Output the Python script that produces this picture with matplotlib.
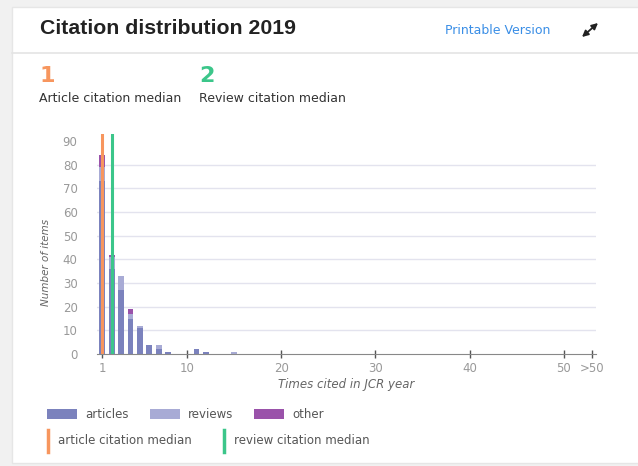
import numpy as np
import matplotlib.pyplot as plt
from matplotlib.patches import Rectangle, FancyArrowPatch
from matplotlib.lines import Line2D

# citation counts (x) and stacked item counts
times_cited = [1, 2, 3, 4, 5, 6, 7, 8, 11, 12, 15]
articles = [73, 36, 27, 15, 11, 4, 2, 1, 2, 1, 0]
reviews = [6, 5, 6, 2, 1, 0, 2, 0, 0, 0, 1]
other = [5, 1, 0, 2, 0, 0, 0, 0, 0, 0, 0]

article_median = 1
review_median = 2

x_ticks = [1, 10, 20, 30, 40, 50, 53]
x_tick_labels = ['1', '10', '20', '30', '40', '50', '>50']
y_ticks = [0, 10, 20, 30, 40, 50, 60, 70, 80, 90]

c_art = '#7b82bd'
c_rev = '#a8abd5'
c_oth = '#9a52aa'
c_orange = '#f7965e'
c_green = '#3cc68a'

W, H = 638, 466
fig = plt.figure(figsize=(W / 100, H / 100), dpi=100)
fig.patch.set_facecolor('#f1f1f1')

def fx(px):
    return px / W

def fy(py):
    return 1 - py / H

# card background
card = Rectangle((fx(12), fy(463)), 1, fy(7) - fy(463), transform=fig.transFigure,
                 facecolor='white', edgecolor='#e6e6e6', lw=1, zorder=-5)
fig.patches.append(card)
fig.add_artist(Line2D([fx(12), 1], [fy(53), fy(53)], color='#e4e4e4', lw=1.2))

# header
fig.text(fx(40), fy(28), 'Citation distribution 2019', fontsize=15.3, fontweight='bold',
         family='Liberation Sans', color='#222222', va='center')
fig.text(fx(445), fy(30), 'Printable Version', fontsize=9, color='#3a8ee6', va='center')
fig.add_artist(FancyArrowPatch((fx(582), fy(37)), (fx(598), fy(23)), transform=fig.transFigure,
                               arrowstyle='<|-|>', mutation_scale=9, color='#222222', lw=1.3,
                               shrinkA=0, shrinkB=0))

# medians summary
fig.text(fx(39), fy(76), str(article_median), fontsize=16, fontweight='bold', color=c_orange, va='center')
fig.text(fx(199), fy(76), str(review_median), fontsize=16, fontweight='bold', color=c_green, va='center')
fig.text(fx(39), fy(98), 'Article citation median', fontsize=9, color='#333333', va='center')
fig.text(fx(199), fy(98), 'Review citation median', fontsize=9, color='#333333', va='center')

# chart
ax = fig.add_axes([fx(97), fy(354), fx(596) - fx(97), fy(134) - fy(354)])
ax.set_facecolor('none')
x = np.array(times_cited)
art = np.array(articles)
rev = np.array(reviews)
oth = np.array(other)
bw = 0.62
ax.bar(x, art, width=bw, color=c_art, zorder=2)
ax.bar(x, rev, width=bw, bottom=art, color=c_rev, zorder=2)
ax.bar(x, oth, width=bw, bottom=art + rev, color=c_oth, zorder=2)
ax.axvline(article_median, color=c_orange, lw=2.2, zorder=3)
ax.axvline(review_median, color=c_green, lw=2.2, zorder=3)

for yv in y_ticks[1:-1]:
    ax.axhline(yv, color='#e3e3ee', lw=1, zorder=1)

ax.set_xlim(0.45, 53.4)
ax.set_ylim(0, 93)
ax.set_xticks(x_ticks)
ax.set_xticklabels(x_tick_labels)
ax.set_yticks(y_ticks)
ax.tick_params(axis='x', length=6, width=1, color='#555555', direction='inout',
               labelsize=8.5, labelcolor='#999999', pad=3)
ax.tick_params(axis='y', length=0, labelsize=8.5, labelcolor='#999999', pad=14)
for s in ['top', 'right', 'left']:
    ax.spines[s].set_visible(False)
ax.spines['bottom'].set_color('#888888')
ax.set_xlabel('Times cited in JCR year', fontsize=8.5, style='italic', color='#666666', labelpad=2)
fig.text(fx(46), fy(262), 'Number of items', fontsize=7.5, style='italic', color='#666666',
         rotation=90, ha='center', va='center')

# legend
legend_items = [(47, 'articles', c_art), (150, 'reviews', c_rev), (254, 'other', c_oth)]
for px, label, col in legend_items:
    fig.patches.append(Rectangle((fx(px), fy(419)), fx(30), fy(409) - fy(419),
                                 transform=fig.transFigure, facecolor=col, edgecolor='none'))
    fig.text(fx(px + 38), fy(414), label, fontsize=8.5, color='#555555', va='center')
for px, label, col in [(48, 'article citation median', c_orange), (224, 'review citation median', c_green)]:
    fig.add_artist(Line2D([fx(px), fx(px)], [fy(430), fy(452)], color=col, lw=2.5))
    fig.text(fx(px + 10), fy(441), label, fontsize=8.5, color='#555555', va='center')

fig.savefig('out.png', dpi=100, facecolor=fig.get_facecolor())
